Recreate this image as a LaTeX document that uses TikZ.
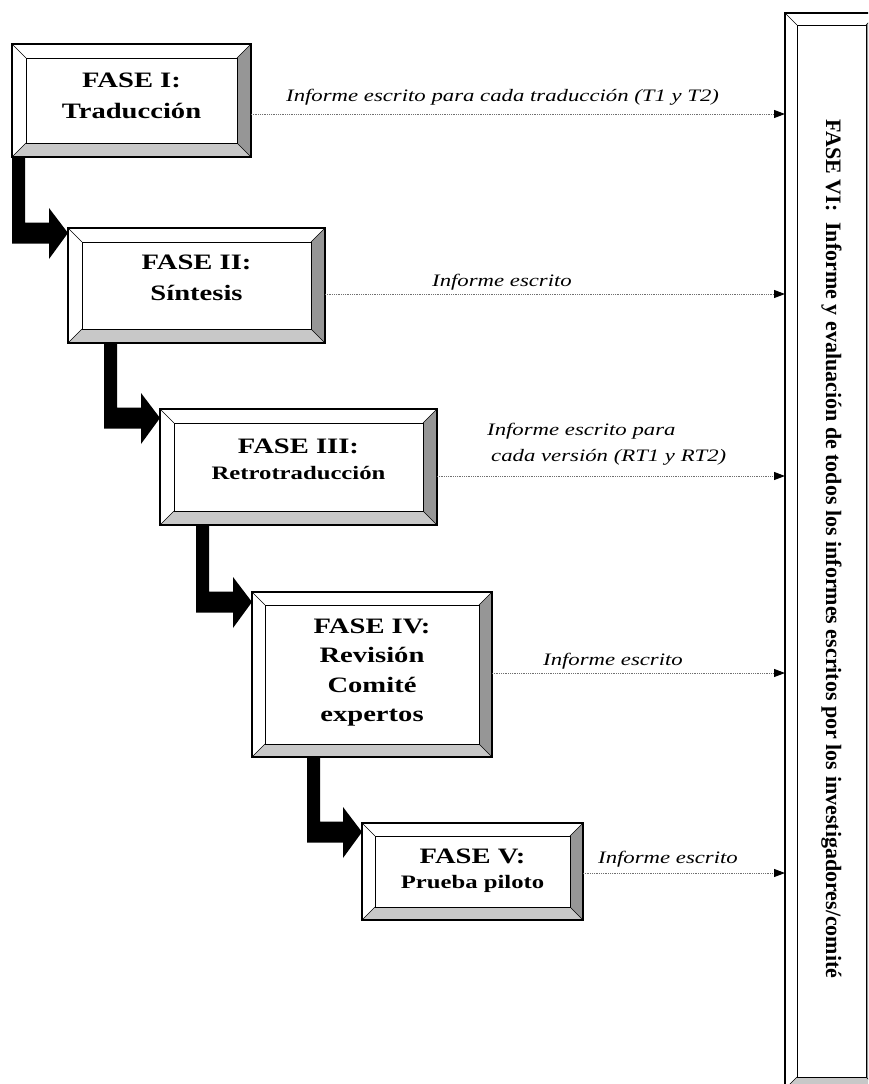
\documentclass[tikz,border=0pt]{standalone}
\usepackage{fontspec}
\setmainfont{Liberation Serif}
\usetikzlibrary{calc,arrows.meta}
\definecolor{bevR}{HTML}{969696}
\definecolor{bevB}{HTML}{C8C8C8}
\definecolor{dotc}{HTML}{707070}
\newcommand\sx[1]{\scalebox{1.3}[1]{#1}}
\newcommand\bevelbox[6]{%
  \node[box, minimum width=#4pt, minimum height=#5pt] (#1) at (#2,#3) {};
  \fill[bevR] (#1.north east) -- (#1.south east) -- ($(#1.south east)+(-#6,-#6)$) -- ($(#1.north east)+(-#6,#6)$) -- cycle;
  \fill[bevB] (#1.south west) -- (#1.south east) -- ($(#1.south east)+(-#6,-#6)$) -- ($(#1.south west)+(#6,-#6)$) -- cycle;
  \draw[line width=1.2pt] (#1.north west) rectangle (#1.south east);
  \draw[line width=1pt] ($(#1.north west)+(#6,#6)$) rectangle ($(#1.south east)+(-#6,-#6)$);
  \draw[line width=0.6pt] (#1.north west) -- ++(#6,#6) (#1.north east) -- ++(-#6,#6)
     (#1.south east) -- ++(-#6,-#6) (#1.south west) -- ++(#6,-#6);
}
\newcommand\elbow[4]{%
  \fill[black] let \p1=($(#1.south west)+(#3,0)$), \p2=($(#2.north west)+(0,#4)$) in
   (\x1,\y1) -- (\x1+13pt,\y1) -- (\x1+13pt,\y2+10.5pt) -- (\x2-19pt,\y2+10.5pt)
   -- (\x2-19pt,\y2+25pt) -- (\x2,\y2) -- (\x2-19pt,\y2-26pt) -- (\x2-19pt,\y2-10.5pt)
   -- (\x1,\y2-10.5pt) -- cycle;
}
\begin{document}
\begin{tikzpicture}[x=1pt,y=-1pt,
  box/.style={draw=none, inner sep=0pt, outer sep=0pt, fill=white, anchor=north west},
  info/.style={draw=dotc, line width=1pt, dash pattern=on 1pt off 0.8pt,
     -{Triangle[length=11pt,width=8pt,black,sep=0pt]}},
  lbl/.style={font=\fontsize{17.5}{20}\selectfont\itshape, inner sep=0pt, anchor=base west},
  ttl/.style={font=\fontsize{22}{26}\selectfont\bfseries, inner sep=0pt, anchor=base},
  sub/.style={font=\fontsize{19}{23}\selectfont\bfseries, inner sep=0pt, anchor=base}
]
\useasboundingbox (0,0) rectangle (868,1084);
\clip (0,0) rectangle (868,1084);
\fill[white] (0,0) rectangle (868,1084);

% boxes
\bevelbox{b1}{12}{44}{239}{113}{14}
\bevelbox{b2}{68}{228}{257}{115}{14}
\bevelbox{b3}{160}{409}{277}{116}{14}
\bevelbox{b4}{252}{592}{240}{165}{13}
\bevelbox{b5}{362}{823}{221}{97}{13}
\bevelbox{b6}{785}{13}{93}{1076}{12}

% thick elbow arrows
\elbow{b1}{b2}{0}{5}
\elbow{b2}{b3}{36}{9}
\elbow{b3}{b4}{36}{10}
\elbow{b4}{b5}{55}{9}

% titles
\node[ttl] (t1a) at (131.5,87) {\sx{FASE I:}};
\node[ttl] (t1b) at (131.5,118) {\sx{Traducción}};
\node[ttl] (t2a) at (196.5,269) {\sx{FASE II:}};
\node[ttl] (t2b) at (196.5,300) {\sx{Síntesis}};
\node[ttl] (t3a) at (298.5,453) {\sx{FASE III:}};
\node[sub] (t3b) at (298.5,479) {\sx{Retrotraducción}};
\node[ttl] (t4a) at (372,633) {\sx{FASE IV:}};
\node[ttl] (t4b) at (372,662) {\sx{Revisión}};
\node[ttl] (t4c) at (372,692) {\sx{Comité}};
\node[ttl] (t4d) at (372,721) {\sx{expertos}};
\node[ttl] (t5a) at (472.5,863) {\sx{FASE V:}};
\node[sub] (t5b) at (472.5,888) {\sx{Prueba piloto}};

% vertical title
\node[font=\fontsize{22}{26}\selectfont\bfseries, inner sep=0pt, anchor=base, rotate=-90] (t6) at (826,549)
  {FASE VI:\ \ Informe y evaluación de todos los informes escritos por los investigadores/comité};

% dotted connectors
\coordinate (s1) at ($(b1.east)+(0,13.5)$);
\coordinate (s2) at ($(b2.east)+(0,8.5)$);
\coordinate (s3) at ($(b3.east)+(0,9)$);
\coordinate (s4) at ($(b4.east)+(0,-1.5)$);
\coordinate (s5) at ($(b5.east)+(0,1.5)$);
\draw[info] (s1) -- (s1 -| b6.west);
\draw[info] (s2) -- (s2 -| b6.west);
\draw[info] (s3) -- (s3 -| b6.west);
\draw[info] (s4) -- (s4 -| b6.west);
\draw[info] (s5) -- (s5 -| b6.west);

% labels
\node[lbl] (l1) at (286,101) {\sx{Informe escrito para cada traducción (T1 y T2)}};
\node[lbl] (l2) at (432,286) {\sx{Informe escrito}};
\node[lbl] (l3a) at (487,435) {\sx{Informe escrito para}};
\node[lbl] (l3b) at (491,461) {\sx{cada versión (RT1 y RT2)}};
\node[lbl] (l4) at (543,665) {\sx{Informe escrito}};
\node[lbl] (l5) at (598,863) {\sx{Informe escrito}};
\end{tikzpicture}
\end{document}
